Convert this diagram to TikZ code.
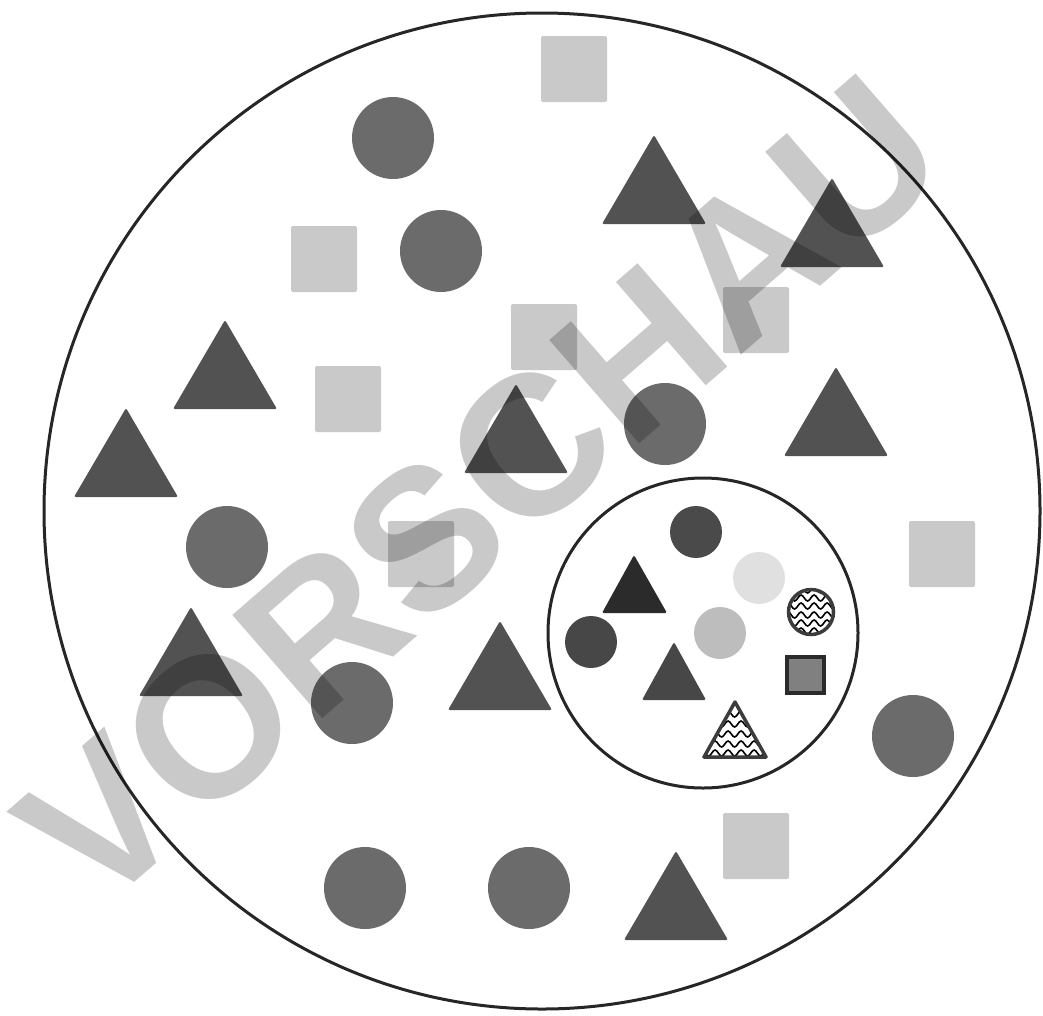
\documentclass[tikz,border=0pt]{standalone}
\usepackage{fontspec}
\newfontfamily\wmfont{Liberation Sans}[BoldFont={* Bold}]
\usetikzlibrary{decorations.pathmorphing}
\definecolor{sqcol}{HTML}{C9C9C9}
\definecolor{circcol}{HTML}{6B6B6B}
\definecolor{tricol}{HTML}{525252}
\definecolor{indark}{HTML}{4A4A4A}
\definecolor{inlight}{HTML}{E0E0E0}
\definecolor{inmid}{HTML}{BDBDBD}
\definecolor{intri}{HTML}{2B2B2B}
\definecolor{intritwo}{HTML}{474747}
\definecolor{insq}{HTML}{808080}
\definecolor{patborder}{HTML}{3C3C3C}
\tikzset{
  ring/.style={draw=black!85, line width=3pt},
  zz/.style={black, line width=1.6pt, decorate, decoration={snake, segment length=13pt, amplitude=3pt}},
}
\newcommand\bsq[2]{\fill[sqcol, rounded corners=2pt] (#1-33,#2-33) rectangle (#1+33,#2+33);}
\newcommand\bci[2]{\fill[circcol] (#1,#2) circle[radius=41pt];}
\newcommand\btri[2]{\fill[tricol, rounded corners=2pt] (#1,#2) -- ++(52,89) -- ++(-104,0) -- cycle;}
\begin{document}
\begin{tikzpicture}[x=1pt,y=-1pt]
\useasboundingbox (0,0) rectangle (1043,1015);
% outer circle
\draw[ring] (542,511) circle[radius=498pt];
% squares
\bsq{574}{69}
\bsq{324}{259}
\bsq{544}{337}
\bsq{756}{320}
\bsq{348}{399}
\bsq{421}{554}
\bsq{942}{554}
\bsq{756}{846}
% circles
\bci{393}{138}
\bci{441}{251}
\bci{227}{547}
\bci{352}{703}
\bci{665}{424}
\bci{913}{736}
\bci{365}{888}
\bci{529}{888}
% triangles
\btri{654}{135}
\btri{832}{178}
\btri{225}{320}
\btri{126}{408}
\btri{516}{384}
\btri{836}{367}
\btri{191}{607}
\btri{500}{621}
\btri{676}{851}
% inner circle
\draw[ring] (703,633) circle[radius=155pt];
\fill[indark] (696,532) circle[radius=26pt];
\fill[inlight] (759,578) circle[radius=26pt];
\fill[inmid] (720,633) circle[radius=26pt];
\fill[intritwo] (591,642) circle[radius=26pt];
\fill[intri, rounded corners=1.5pt] (634,555) -- (667,613) -- (602,613) -- cycle;
\fill[intritwo, rounded corners=1.5pt] (674,642) -- (706,700) -- (642,700) -- cycle;
\draw[line width=3.5pt, draw=intri, fill=insq] (787,657) rectangle (824,693);
% patterned circle
\begin{scope}
\clip (811,612) circle[radius=23pt];
\foreach \yy in {590,598,606,615,623,631} {\draw[zz] (784,\yy) -- (840,\yy);}
\end{scope}
\draw[line width=3.5pt, draw=patborder] (811,612) circle[radius=22.5pt];
% patterned triangle
\begin{scope}
\clip (735,702) -- (766,757) -- (704,757) -- cycle;
\foreach \yy in {714,724,734,744,753} {\draw[zz] (698,\yy) -- (774,\yy);}
\end{scope}
\draw[line width=3.5pt, draw=patborder, line join=round] (735,702) -- (766,757) -- (704,757) -- cycle;
% watermark
\node[rotate=41, text=black, text opacity=0.21, font=\wmfont\bfseries\fontsize{199}{199}\selectfont, inner sep=0pt, anchor=base] (wm) at (525,543) {VORSCHAU};
\end{tikzpicture}
\end{document}
